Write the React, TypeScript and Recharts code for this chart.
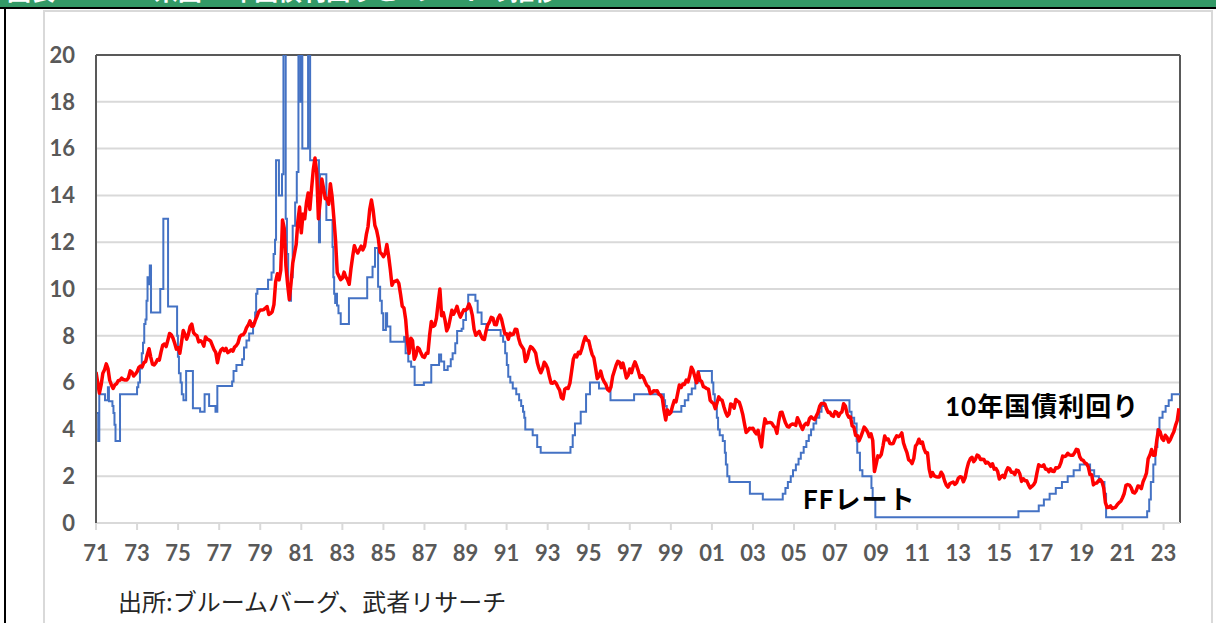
import React from 'react';
import { LineChart, Line, XAxis, YAxis, CartesianGrid, ReferenceLine } from 'recharts';

// 10-year Treasury yield, monthly, Jan 1971 onwards (%)
const yield1970s = [
  6.45, 6.0, 5.55, 5.9, 6.4, 6.55, 6.8, 6.6, 6.1, 5.9, 5.75, 5.9,
  5.95, 6.08, 6.1, 6.19, 6.13, 6.11, 6.11, 6.21, 6.5, 6.45, 6.28, 6.36,
  6.46, 6.64, 6.71, 6.67, 6.85, 6.9, 7.2, 7.45, 7.09, 6.79, 6.75, 6.85,
  6.99, 6.96, 7.3, 7.6, 7.65, 7.54, 7.81, 8.1, 8.04, 7.9, 7.68, 7.43,
  7.5, 7.25, 7.73, 8.23, 8.06, 7.86, 8.06, 8.4, 8.5, 8.14, 8.05, 8.0,
  7.74, 7.79, 7.73, 7.56, 7.95, 7.86, 7.83, 7.77, 7.59, 7.41, 7.29, 6.85,
  7.21, 7.39, 7.46, 7.37, 7.46, 7.28, 7.33, 7.4, 7.34, 7.52, 7.58, 7.69,
  7.96, 8.03, 8.04, 8.15, 8.35, 8.46, 8.64, 8.41, 8.42, 8.64, 8.81, 9.01,
  9.1, 9.1, 9.12, 9.18, 9.25, 8.91, 8.95, 9.03, 9.33, 10.3, 10.65, 10.39,
];
const yield1980s = [
  10.8, 12.95, 12.6, 11.0, 10.2, 9.55, 10.25, 11.1, 11.51, 11.9, 12.9, 13.5,
  12.4, 13.2, 13.0, 13.68, 14.1, 13.4, 14.28, 15.1, 15.6, 15.0, 13.0, 13.72,
  14.7, 14.3, 13.86, 13.87, 13.62, 14.5, 13.95, 13.06, 12.1, 10.7, 10.55, 10.4,
  10.46, 10.72, 10.51, 10.4, 10.2, 10.85, 11.38, 11.85, 11.65, 11.54, 11.69, 11.83,
  11.67, 11.84, 12.32, 12.66, 13.41, 13.8, 13.36, 12.72, 12.52, 12.16, 11.57, 11.5,
  11.38, 11.51, 11.9, 11.43, 10.85, 10.16, 10.31, 10.33, 10.37, 10.24, 9.78, 9.26,
  9.19, 8.7, 7.78, 7.25, 7.9, 7.8, 7.0, 7.17, 7.5, 7.43, 7.25, 7.11,
  7.08, 7.25, 7.25, 8.02, 8.61, 8.4, 8.45, 8.76, 9.42, 10.0, 8.86, 8.99,
  8.67, 8.21, 8.37, 8.72, 9.09, 8.92, 9.06, 9.26, 8.98, 8.8, 8.96, 9.11,
  9.09, 9.17, 9.36, 9.18, 8.86, 8.28, 8.02, 8.11, 8.19, 8.01, 7.87, 7.84,
];
const yield1990s = [
  8.21, 8.47, 8.59, 8.79, 8.76, 8.48, 8.47, 8.75, 8.89, 8.72, 8.39, 8.08,
  8.09, 7.85, 8.11, 8.04, 8.07, 8.28, 8.27, 7.9, 7.65, 7.53, 7.42, 6.9,
  7.03, 7.34, 7.54, 7.48, 7.39, 7.26, 6.84, 6.59, 6.42, 6.59, 6.87, 6.77,
  6.6, 6.26, 5.98, 5.97, 6.04, 5.96, 5.81, 5.68, 5.36, 5.3, 5.72, 5.77,
  5.75, 5.97, 6.48, 7.0, 7.18, 7.1, 7.3, 7.24, 7.46, 7.74, 7.96, 7.81,
  7.78, 7.47, 7.2, 7.06, 6.63, 6.17, 6.28, 6.49, 6.2, 6.04, 5.93, 5.71,
  5.65, 5.81, 6.27, 6.51, 6.74, 6.91, 6.87, 6.64, 6.83, 6.53, 6.2, 6.3,
  6.58, 6.42, 6.69, 6.89, 6.71, 6.49, 6.22, 6.3, 6.21, 6.03, 5.88, 5.81,
  5.54, 5.57, 5.65, 5.64, 5.65, 5.5, 5.46, 5.34, 4.81, 4.4, 4.83, 4.65,
  4.72, 5.0, 5.23, 5.18, 5.54, 5.9, 5.79, 5.94, 5.92, 6.11, 6.03, 6.28,
];
const yield2000s = [
  6.66, 6.52, 6.26, 5.99, 6.44, 6.1, 6.05, 5.83, 5.8, 5.74, 5.72, 5.24,
  5.16, 5.1, 4.89, 5.14, 5.39, 5.28, 5.24, 4.97, 4.73, 4.57, 4.65, 5.09,
  5.04, 4.91, 5.28, 5.21, 5.16, 4.93, 4.65, 4.26, 3.87, 3.94, 4.05, 4.03,
  4.05, 3.9, 3.81, 3.96, 3.57, 3.25, 3.98, 4.45, 4.27, 4.29, 4.3, 4.27,
  4.15, 4.08, 3.83, 4.35, 4.72, 4.73, 4.5, 4.28, 4.13, 4.1, 4.19, 4.23,
  4.22, 4.17, 4.5, 4.34, 4.14, 4.0, 4.18, 4.26, 4.2, 4.46, 4.54, 4.47,
  4.42, 4.57, 4.72, 4.99, 5.11, 5.11, 5.09, 4.88, 4.72, 4.73, 4.6, 4.56,
  4.76, 4.72, 4.56, 4.69, 4.75, 5.1, 5.0, 4.67, 4.52, 4.53, 4.15, 4.1,
  3.74, 3.74, 3.51, 3.68, 3.88, 4.1, 4.01, 3.89, 3.69, 3.81, 3.53, 2.2,
  2.52, 2.87, 2.82, 2.93, 3.29, 3.72, 3.56, 3.59, 3.4, 3.39, 3.4, 3.59,
];
const yield2010s = [
  3.73, 3.69, 3.73, 3.85, 3.42, 3.2, 3.01, 2.7, 2.65, 2.54, 2.76, 3.29,
  3.39, 3.58, 3.41, 3.46, 3.17, 3.0, 3.0, 2.3, 1.98, 2.15, 2.01, 1.98,
  1.97, 1.97, 2.17, 2.05, 1.8, 1.62, 1.53, 1.68, 1.72, 1.75, 1.65, 1.72,
  1.91, 1.98, 1.96, 1.76, 1.93, 2.3, 2.58, 2.74, 2.81, 2.62, 2.72, 2.9,
  2.86, 2.71, 2.72, 2.71, 2.56, 2.6, 2.54, 2.42, 2.53, 2.3, 2.33, 2.21,
  1.88, 1.98, 2.04, 1.94, 2.2, 2.36, 2.32, 2.17, 2.17, 2.07, 2.26, 2.24,
  2.09, 1.78, 1.89, 1.81, 1.81, 1.64, 1.5, 1.56, 1.63, 1.76, 2.14, 2.49,
  2.43, 2.42, 2.48, 2.3, 2.3, 2.19, 2.32, 2.21, 2.2, 2.36, 2.35, 2.4,
  2.58, 2.86, 2.84, 2.87, 2.98, 2.91, 2.89, 2.89, 3.0, 3.15, 3.12, 2.83,
  2.71, 2.68, 2.57, 2.53, 2.4, 2.07, 2.06, 1.63, 1.7, 1.71, 1.81, 1.86,
];
const yield2020s = [
  1.76, 1.5, 0.87, 0.66, 0.67, 0.73, 0.62, 0.65, 0.68, 0.79, 0.87, 0.93,
  1.08, 1.26, 1.61, 1.64, 1.62, 1.52, 1.32, 1.28, 1.37, 1.58, 1.56, 1.47,
  1.76, 1.93, 2.13, 2.75, 2.9, 3.14, 2.9, 2.9, 3.52, 3.98, 3.89, 3.62,
  3.53, 3.75, 3.66, 3.46, 3.57, 3.75, 3.9, 4.17, 4.38, 4.9,
];
const yieldStartYear = 1971;

// FF rate: change dates (decimal years) and new level (%)
const ffDates = [
  1971.0, 1971.11, 1971.16, 1971.44, 1971.58, 1971.63, 1971.8, 1971.85, 1971.9, 1971.95,
  1972.17, 1973.0, 1973.06, 1973.14, 1973.23, 1973.29, 1973.35, 1973.41, 1973.46, 1973.51,
  1973.58, 1973.62, 1973.68, 1974.13, 1974.28, 1974.51, 1974.95, 1974.99, 1975.04, 1975.12,
  1975.18, 1975.26, 1975.39, 1975.72, 1976.07, 1976.29, 1976.51, 1976.82, 1976.91, 1977.63,
  1977.7, 1977.84, 1978.12, 1978.21, 1978.33, 1978.46, 1978.65, 1978.75, 1978.8, 1978.86,
  1979.38, 1979.55, 1979.65, 1979.72, 1979.77, 1979.91, 1980.06, 1980.13, 1980.24, 1980.3,
  1980.36, 1980.42, 1980.5, 1980.58, 1980.7, 1980.78, 1980.86, 1980.96, 1981.01, 1981.05,
  1981.33, 1981.43, 1981.86, 1981.91, 1982.22, 1982.52, 1982.56, 1982.6, 1982.65, 1982.7,
  1982.74, 1982.81, 1982.92, 1983.32, 1984.21, 1984.47, 1984.59, 1984.74, 1984.84, 1984.92,
  1984.99, 1985.12, 1985.18, 1985.34, 1986.01, 1986.08, 1986.21, 1986.35, 1986.52, 1986.97,
  1987.33, 1987.71, 1987.81, 1987.96, 1988.13, 1988.28, 1988.37, 1988.5, 1988.59, 1988.81,
  1988.89, 1989.02, 1989.13, 1989.48, 1989.59, 1989.78, 1990.02, 1990.71, 1990.83, 1990.93,
  1991.01, 1991.08, 1991.18, 1991.3, 1991.47, 1991.61, 1991.71, 1991.8, 1991.86, 1991.91,
  1992.27, 1992.49, 1992.66, 1994.11, 1994.22, 1994.33, 1994.61, 1994.87, 1995.06, 1995.5,
  1996.06, 1997.21, 1998.66, 1998.72, 1998.8, 1999.51, 1999.68, 1999.85, 2000.02, 2000.19,
  2000.34, 2001.0, 2001.07, 2001.14, 2001.24, 2001.3, 2001.38, 2001.53, 2001.63, 2001.68,
  2001.75, 2001.85, 2002.85, 2003.48, 2004.45, 2004.58, 2004.7, 2004.84, 2004.95, 2005.09,
  2005.22, 2005.33, 2005.47, 2005.6, 2005.72, 2005.83, 2005.95, 2006.08, 2006.23, 2006.34,
  2006.45, 2007.7, 2007.8, 2007.93, 2008.05, 2008.08, 2008.21, 2008.33, 2008.77, 2008.83,
  2008.96, 2015.93, 2016.92, 2017.17, 2017.45, 2017.75, 2018.05, 2018.33, 2018.62, 2018.92,
  2019.42, 2019.62, 2019.85, 2020.12, 2020.2, 2022.2, 2022.3, 2022.38, 2022.5, 2022.6,
  2022.7, 2022.8, 2022.95, 2023.1, 2023.25, 2023.4, 2023.8,
];
const ffLevels = [
  4.7, 3.5, 5.5, 5.25, 5.8, 5.2, 5.0, 4.7, 4.2, 3.5,
  5.5, 5.8, 6.0, 6.6, 7.25, 7.7, 8.5, 8.7, 9.5, 10.5,
  10.2, 11.0, 9.0, 10.0, 13.0, 9.25, 8.0, 7.1, 6.4, 6.0,
  5.5, 5.25, 6.5, 4.9, 4.75, 5.5, 5.0, 4.75, 5.85, 6.05,
  6.5, 6.75, 7.0, 7.5, 7.8, 8.1, 8.55, 9.0, 9.8, 10.0,
  10.4, 10.7, 11.5, 12.1, 15.5, 14.0, 14.9, 22, 13.0, 11.5,
  10.0, 9.5, 10.5, 12.7, 13.7, 15.0, 22, 18.0, 22, 16.0,
  22, 15.5, 12.0, 14.9, 12.95, 11.8, 10.5, 9.8, 9.4, 9.8,
  9.3, 8.96, 8.5, 9.6, 10.5, 10.95, 11.75, 10.1, 9.5, 8.96,
  8.25, 8.96, 8.4, 7.75, 7.95, 7.25, 6.9, 6.68, 5.9, 6.0,
  6.75, 7.2, 6.9, 6.54, 6.7, 7.0, 7.25, 7.68, 8.2, 8.3,
  8.68, 9.13, 9.75, 9.5, 9.0, 8.5, 8.25, 8.0, 7.75, 7.25,
  6.75, 6.25, 6.0, 5.75, 5.5, 5.25, 5.0, 4.75, 4.5, 4.0,
  3.75, 3.25, 3.0, 3.25, 3.75, 4.25, 4.75, 5.5, 6.0, 5.75,
  5.25, 5.5, 5.25, 5.0, 4.75, 5.0, 5.25, 5.5, 5.75, 6.0,
  6.5, 6.0, 5.5, 5.0, 4.5, 4.0, 3.75, 3.5, 3.0, 2.5,
  2.0, 1.75, 1.25, 1.0, 1.25, 1.5, 1.75, 2.0, 2.25, 2.5,
  2.75, 3.0, 3.25, 3.5, 3.75, 4.0, 4.25, 4.5, 4.75, 5.0,
  5.25, 4.75, 4.5, 4.25, 3.5, 3.0, 2.25, 2.0, 1.5, 1.0,
  0.25, 0.5, 0.75, 1.0, 1.25, 1.5, 1.75, 2.0, 2.25, 2.5,
  2.25, 2.0, 1.75, 1.25, 0.25, 0.5, 1.0, 1.75, 2.5, 3.25,
  4.0, 4.5, 4.75, 5.0, 5.25, 5.5, 5.5,
];

const xTickYears = [
  1971, 1973, 1975, 1977, 1979, 1981, 1983, 1985, 1987, 1989, 1991, 1993, 1995, 1997,
  1999, 2001, 2003, 2005, 2007, 2009, 2011, 2013, 2015, 2017, 2019, 2021, 2023,
];
const yTickValues = [0, 2, 4, 6, 8, 10, 12, 14, 16, 18, 20];
const xDomainEnd = 2023.8;

const titleParts = ['図表1', '米国10年国債利回りと', 'FFレートの推移'];
const labelYield = '10年国債利回り';
const labelFF = 'FFレート';
const sourceText = '出所:ブルームバーグ、武者リサーチ';

const yieldData = [...yield1970s, ...yield1980s, ...yield1990s, ...yield2000s, ...yield2010s, ...yield2020s].map(
  (v, i) => ({ t: yieldStartYear + i / 12, v })
);
const ffData = ffDates.map((t, i) => ({ t, v: ffLevels[i] }));

const tickStyle = { fill: '#595959', fontSize: 22, fontWeight: 700, fontFamily: 'Lato, "Liberation Sans", sans-serif' };
const titleLefts = [7, 154, 386];

export default function App() {
  return (
    <div style={{ position: 'absolute', left: 0, top: 0, width: 1216, height: 623, background: '#fff', overflow: 'hidden' }}>
      {/* header (title mostly cut off at the top, as in the source) */}
      <div style={{ position: 'absolute', left: 0, top: 0, width: 1216, height: 7, background: '#339966', overflow: 'hidden' }}>
        {titleParts.map((s, i) => (
          <div
            key={i}
            style={{ position: 'absolute', left: titleLefts[i], top: -22, color: '#fff', fontSize: 24, lineHeight: '24px', fontWeight: 700, fontFamily: '"Noto Sans CJK JP", sans-serif', whiteSpace: 'nowrap' }}
          >
            {s}
          </div>
        ))}
      </div>
      <div style={{ position: 'absolute', left: 0, top: 7, width: 1216, height: 2, background: '#000' }} />
      <div style={{ position: 'absolute', left: 4, top: 7, width: 2, height: 620, background: '#000' }} />
      {/* chart frame */}
      <div style={{ position: 'absolute', left: 43, top: 10, width: 1166, height: 700, borderLeft: '2px solid #d9d9d9', borderTop: '2px solid #d9d9d9', borderRight: '2px solid #d9d9d9' }} />

      <div style={{ position: 'absolute', left: 0, top: 0 }}>
        <LineChart width={1216} height={623} margin={{ top: 55, right: 36, bottom: 60, left: 0 }}>
          <CartesianGrid vertical={false} stroke="#d9d9d9" strokeWidth={2} />
          <XAxis
            type="number"
            dataKey="t"
            domain={[yieldStartYear, xDomainEnd]}
            allowDataOverflow
            ticks={xTickYears}
            interval={0}
            tickFormatter={(v) => String(v % 100).padStart(2, '0')}
            height={40}
            tickSize={7}
            tickMargin={15}
            axisLine={{ stroke: '#d9d9d9', strokeWidth: 2 }}
            tickLine={{ stroke: '#d9d9d9', strokeWidth: 2 }}
            tick={tickStyle}
          />
          <YAxis
            type="number"
            domain={[0, 20]}
            allowDataOverflow
            ticks={yTickValues}
            interval={0}
            width={96}
            tickSize={0}
            tickMargin={21}
            tickLine={false}
            axisLine={{ stroke: '#595959', strokeWidth: 2 }}
            tick={tickStyle}
          />
          <ReferenceLine y={20} stroke="#595959" strokeWidth={2} />
          <ReferenceLine x={xDomainEnd} stroke="#595959" strokeWidth={2} />
          <Line
            data={ffData}
            dataKey="v"
            type="stepAfter"
            stroke="#4472C4"
            strokeWidth={2}
            dot={false}
            activeDot={false}
            isAnimationActive={false}
          />
          <Line
            data={yieldData}
            dataKey="v"
            type="linear"
            stroke="#FF0000"
            strokeWidth={3.5}
            strokeLinejoin="round"
            dot={false}
            activeDot={false}
            isAnimationActive={false}
          />
        </LineChart>
      </div>

      <div style={{ position: 'absolute', left: 945, top: 393, fontSize: 26, lineHeight: '26px', fontWeight: 700, color: '#000', fontFamily: 'Lato, "Noto Sans CJK JP", sans-serif', whiteSpace: 'nowrap', letterSpacing: 1 }}>
        {labelYield}
      </div>
      <div style={{ position: 'absolute', left: 803, top: 486, fontSize: 26, lineHeight: '26px', fontWeight: 700, color: '#000', fontFamily: 'Lato, "Noto Sans CJK JP", sans-serif', whiteSpace: 'nowrap', letterSpacing: 1 }}>
        {labelFF}
      </div>
      <div style={{ position: 'absolute', left: 118, top: 589, fontSize: 24, lineHeight: '24px', color: '#262626', fontFamily: '"Noto Sans CJK JP", sans-serif', whiteSpace: 'nowrap' }}>
        {sourceText}
      </div>
    </div>
  );
}
